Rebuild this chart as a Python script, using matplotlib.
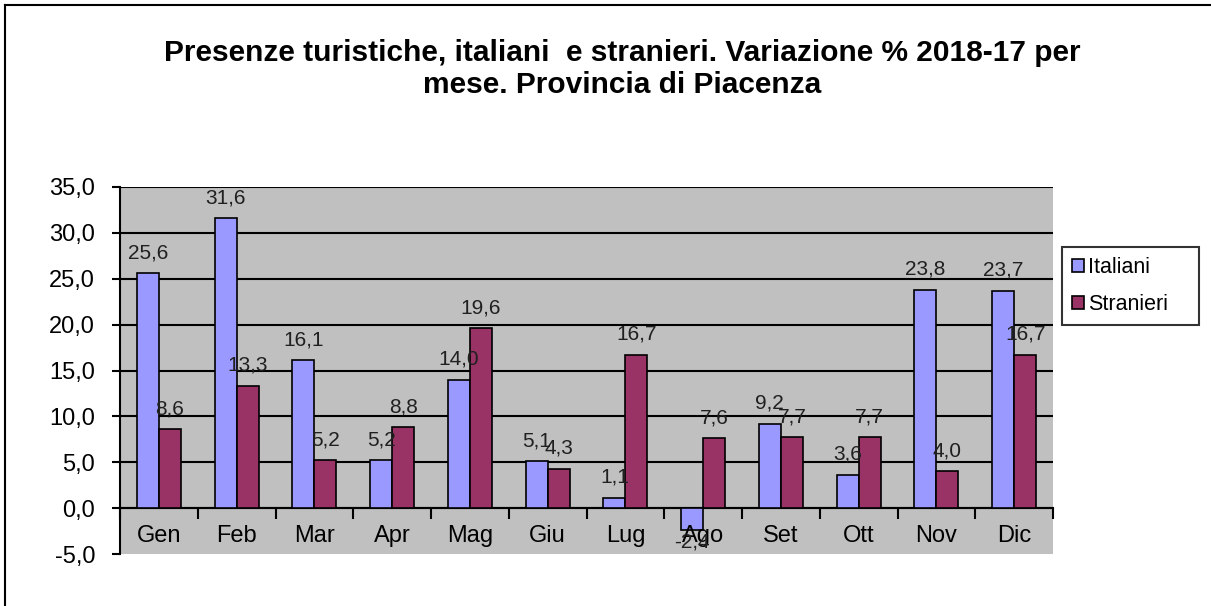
import matplotlib
matplotlib.use("Agg")
import matplotlib.pyplot as plt
import numpy as np

months = ["Gen", "Feb", "Mar", "Apr", "Mag", "Giu", "Lug", "Ago", "Set", "Ott", "Nov", "Dic"]
italiani = [25.6, 31.6, 16.1, 5.2, 14.0, 5.1, 1.1, -2.4, 9.2, 3.6, 23.8, 23.7]
stranieri = [8.6, 13.3, 5.2, 8.8, 19.6, 4.3, 16.7, 7.6, 7.7, 7.7, 4.0, 16.7]
yticks = [-5, 0, 5, 10, 15, 20, 25, 30, 35]
title = "Presenze turistiche, italiani  e stranieri. Variazione % 2018-17 per\nmese. Provincia di Piacenza"

plt.rcParams['font.family'] = ['Liberation Sans', 'DejaVu Sans']

fig = plt.figure(figsize=(12.11, 6.06), dpi=100)
ax = fig.add_axes([120/1211, 1-554/606, (1053-120)/1211, (554-187)/606])
ax.set_facecolor('#C0C0C0')

x = np.arange(len(months))
w = 0.283
b1 = ax.bar(x - w/2, italiani, w, color='#9999FF', edgecolor='black', linewidth=1.2, label='Italiani', zorder=3)
b2 = ax.bar(x + w/2, stranieri, w, color='#993366', edgecolor='black', linewidth=1.2, label='Stranieri', zorder=3)

def fmt(v):
    return f"{v:.1f}".replace('.', ',')

for bars, vals in ((b1, italiani), (b2, stranieri)):
    for r, v in zip(bars, vals):
        cx = r.get_x() + r.get_width()/2
        if v >= 0:
            ax.annotate(fmt(v), (cx, v), xytext=(0, 8), textcoords='offset points',
                        ha='center', va='bottom', fontsize=15, color='#202020', zorder=5)
        else:
            ax.annotate(fmt(v), (cx, v), xytext=(0, -2), textcoords='offset points',
                        ha='center', va='top', fontsize=15, color='#202020', zorder=5,
                        annotation_clip=False)

ax.set_xlim(-0.5, len(months) - 0.5)
ax.set_ylim(-5, 35)
ax.set_yticks(yticks)
ax.set_yticklabels([fmt(t) for t in yticks], fontsize=17)
for t in yticks[1:]:
    ax.axhline(t, color='black', linewidth=1.5, zorder=2)

ax.spines['top'].set_visible(False)
ax.spines['right'].set_visible(False)
ax.spines['left'].set_linewidth(1.5)
ax.spines['bottom'].set_position(('data', 0))
ax.spines['bottom'].set_linewidth(1.5)
ax.set_xticks(np.arange(-0.5, len(months), 1.0))
ax.set_xticklabels([])
ax.tick_params(axis='x', direction='out', length=8, width=1.5)
ax.tick_params(axis='y', direction='out', length=6, width=1.5, pad=12)

for i, m in enumerate(months):
    ax.annotate(m, (i, 0), xytext=(0, -12), textcoords='offset points',
                ha='center', va='top', fontsize=17, zorder=4)

fig.text(622/1211, 1-69/606, title, ha='center', va='center', fontsize=21.5,
         fontweight='bold', linespacing=1.2)

leg = ax.legend(loc='upper left', bbox_to_anchor=(1062/1211, 1-335/606, 137/1211, 88/606),
                bbox_transform=fig.transFigure, mode='expand', fontsize=15.5,
                frameon=True, fancybox=False, edgecolor='black', handlelength=0.55,
                handleheight=0.55, handletextpad=0.2, borderpad=0.45, labelspacing=0.75,
                borderaxespad=0)
leg.get_frame().set_linewidth(1.5)

# outer chart border
fig.add_artist(plt.Line2D([5/1211, 5/1211], [0, 1-5/606], color='black', linewidth=1.5))
fig.add_artist(plt.Line2D([5/1211, 1], [1-5/606, 1-5/606], color='black', linewidth=1.5))

fig.savefig('out.png', dpi=100)
